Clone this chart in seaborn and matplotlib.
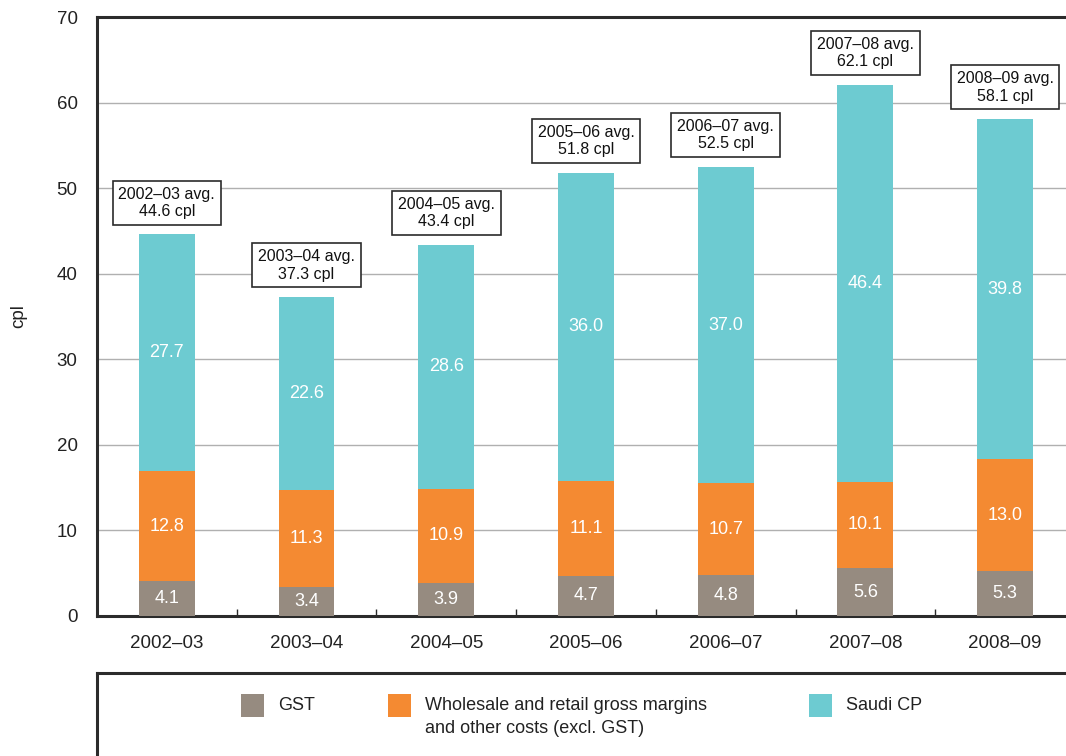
import matplotlib
matplotlib.use("Agg")
import matplotlib.pyplot as plt
from matplotlib.patches import Rectangle
import seaborn as sns
import pandas as pd
import numpy as np

categories = ["2002–03", "2003–04", "2004–05", "2005–06", "2006–07", "2007–08", "2008–09"]
gst = [4.1, 3.4, 3.9, 4.7, 4.8, 5.6, 5.3]
margins = [12.8, 11.3, 10.9, 11.1, 10.7, 10.1, 13.0]
saudi_cp = [27.7, 22.6, 28.6, 36.0, 37.0, 46.4, 39.8]
totals = [44.6, 37.3, 43.4, 51.8, 52.5, 62.1, 58.1]
series_names = ["GST", "Wholesale and retail gross margins\nand other costs (excl. GST)", "Saudi CP"]
yticks = [0, 10, 20, 30, 40, 50, 60, 70]

c_gst = "#968B80"
c_mar = "#F48A32"
c_cp = "#6DCBD1"
dark = "#2b2b2b"

sns.set_theme(style="white")
plt.rcParams["font.family"] = ["Liberation Sans", "DejaVu Sans"]

W, H = 1066, 756
fig = plt.figure(figsize=(W / 100, H / 100), dpi=100)
ax = fig.add_axes([97 / W, 1 - 616 / H, 1 - 97 / W, (616 - 17) / H])

df = pd.DataFrame({"cat": categories, "gst": gst, "mar": margins, "cp": saudi_cp})
df["lvl2"] = df["gst"] + df["mar"]
df["lvl3"] = df["lvl2"] + df["cp"]

for col, color in [("lvl3", c_cp), ("lvl2", c_mar), ("gst", c_gst)]:
    sns.barplot(data=df, x="cat", y=col, color=color, width=0.4, saturation=1,
                linewidth=0, ax=ax, zorder=3)

# segment labels
for i in range(len(categories)):
    segs = [(0, gst[i]), (gst[i], gst[i] + margins[i]), (gst[i] + margins[i], gst[i] + margins[i] + saudi_cp[i])]
    vals = [gst[i], margins[i], saudi_cp[i]]
    for (b, t), v in zip(segs, vals):
        ax.text(i, (b + t) / 2, f"{v:.1f}", ha="center", va="center", color="white",
                fontsize=13, zorder=5)
    ax.annotate(f"{categories[i]} avg.\n{totals[i]:.1f} cpl", xy=(i, totals[i]),
                xytext=(0, 11), textcoords="offset points", ha="center", va="bottom",
                fontsize=11.5, linespacing=1.2, color="#111111", zorder=6,
                bbox=dict(boxstyle="square,pad=0.36", fc="white", ec=dark, lw=1.2))

ax.set_ylim(0, 70)
ax.set_xlim(-0.5, -0.5 + (W - 97) / 139.7)
ax.set_yticks(yticks)
ax.set_yticklabels([str(v) for v in yticks], fontsize=13.5, color="#222222")
ax.set_xticks(range(len(categories)))
ax.set_xticklabels(categories, fontsize=13.5, color="#222222")
ax.set_xticks(np.arange(len(categories)) - 0.5, minor=True)
ax.tick_params(axis="x", which="major", length=0, pad=14)
ax.tick_params(axis="x", which="minor", length=5, width=1, direction="in", color=dark, bottom=True)
ax.tick_params(axis="y", length=0, pad=14)
ax.set_xlabel("")
ax.set_ylabel("cpl", fontsize=13.5, color="#222222")
ax.yaxis.set_label_coords(-70 / (W - 97), 0.5)
ax.yaxis.grid(True, color="#b0b0b0", lw=1, zorder=0)
ax.xaxis.grid(False)
for s in ["left", "bottom", "top"]:
    ax.spines[s].set_visible(True)
    ax.spines[s].set_color(dark)
    ax.spines[s].set_linewidth(2.2)
ax.spines["right"].set_visible(False)
ax.set_facecolor("white")

# legend panel
lax = fig.add_axes([97 / W, 0, 1 - 97 / W, (756 - 673) / H])
lax.set_xlim(97, W)
lax.set_ylim(756, 673)
lax.set_xticks([])
lax.set_yticks([])
for s in ["left", "top"]:
    lax.spines[s].set_visible(True)
    lax.spines[s].set_color(dark)
    lax.spines[s].set_linewidth(2.2)
for s in ["right", "bottom"]:
    lax.spines[s].set_visible(False)
lax.set_facecolor("white")
leg_x = [241, 388, 809]
for x0, color, name in zip(leg_x, [c_gst, c_mar, c_cp], series_names):
    lax.add_patch(Rectangle((x0, 694), 23, 23, color=color, lw=0))
    lax.text(x0 + 37, 697, name, ha="left", va="top", fontsize=13, color="#222222",
             linespacing=1.5)

fig.savefig("out.png", dpi=100, facecolor="white")
